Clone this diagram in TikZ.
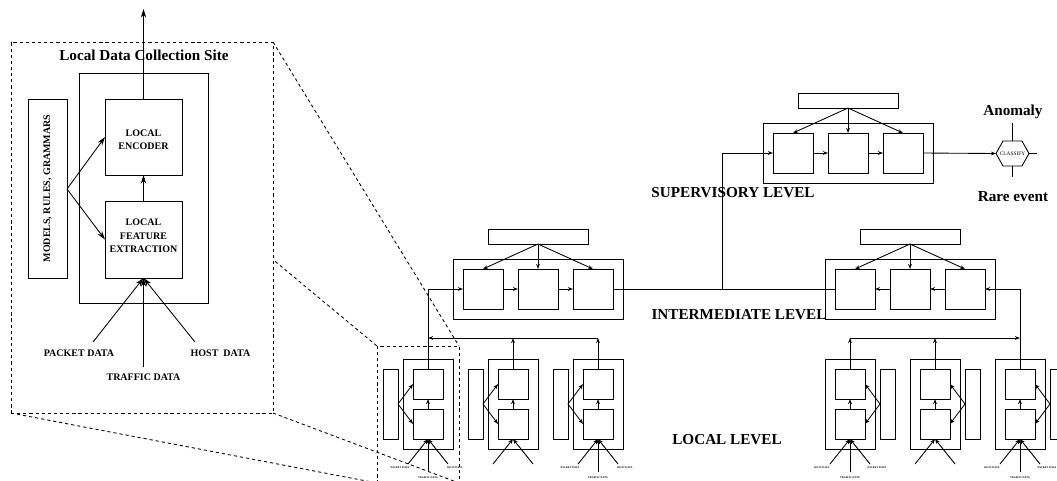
\documentclass[tikz,border=0pt]{standalone}
\usepackage{fontspec}
\setmainfont{Liberation Serif}
\usetikzlibrary{arrows.meta,fit}
\tikzset{
  bx/.style={draw, line width=0.6pt, inner sep=0pt, outer sep=0pt},
  ux/.style={draw, line width=0.65pt, inner sep=0pt, outer sep=0pt},
  ln/.style={line width=0.65pt},
  sarr/.style={ln, -{Stealth[length=3.8pt,width=2.8pt]}},
  barr/.style={line width=0.65pt, -{Stealth[length=6.5pt,width=4pt]}},
  dsh/.style={line width=0.65pt, dash pattern=on 2.4pt off 2.2pt},
  big/.style={font=\fontsize{11.4}{13}\selectfont\bfseries, inner sep=0pt},
  mid/.style={font=\fontsize{7.5}{10}\selectfont\bfseries, inner sep=0pt, align=center},
  tiny/.style={font=\fontsize{2}{2.4}\selectfont\bfseries, inner sep=0pt},
  cls/.style={font=\fontsize{4}{5}\selectfont, inner sep=0pt},
}
% local unit: #1 name, #2 centre x, #3 side sign of models box, #4 anchor facing models
\newcommand{\lunit}[4]{%
  \node[ux, fit={({#2-25},359)({#2+25},449)}] (#1o) {};
  \node[ux, fit={({#2-15},369)({#2+15},399)}] (#1e) {};
  \node[ux, fit={({#2-15},409)({#2+15},439)}] (#1f) {};
  \node[ux, fit={({#2+#3*30},369)({#2+#3*45},439)}] (#1m) {};
  \coordinate (#1v) at ({#2+#3*30},404);
  \draw[sarr] (#1v) -- (#1e.#4);
  \draw[sarr] (#1v) -- (#1f.#4);
  \draw[sarr] (#1f.north) -- (#1e.south);
  \coordinate (#1p) at ({#2-20},464);
  \coordinate (#1q) at ({#2+20},464);
  \draw[sarr] (#1p) -- (#1f.south);
  \draw[sarr] (#1q) -- (#1f.south);
}
% data labels of a local unit: #1 name, #2 centre x, #3 left label, #4 right label
\newcommand{\ldata}[4]{%
  \coordinate (#1r) at (#2,472);
  \draw[sarr] (#1r) -- (#1f.south);
  \node[tiny] (#1la) at ({#2-28},468) {#3};
  \node[tiny] (#1lb) at ({#2+27},468) {#4};
  \node[tiny] (#1lc) at (#2,478) {TRAFFIC DATA};
}
% three-block stage: #1 name, #2 left x, #3 top y
\newcommand{\tribox}[3]{%
  \node[ux, fit={(#2,#3)({#2+170},{#3+60})}] (#1o) {};
  \node[ux, fit={({#2+35},{#3-30})({#2+135},{#3-15})}] (#1k) {};
  \node[ux, fit={({#2+10},{#3+10})({#2+50},{#3+50})}] (#1a) {};
  \node[ux, fit={({#2+65},{#3+10})({#2+105},{#3+50})}] (#1b) {};
  \node[ux, fit={({#2+120},{#3+10})({#2+160},{#3+50})}] (#1c) {};
  \draw[sarr] (#1k.south) -- (#1a.north);
  \draw[sarr] (#1k.south) -- (#1b.north);
  \draw[sarr] (#1k.south) -- (#1c.north);
}
\begin{document}
\begin{tikzpicture}[x=0.75pt,y=-0.75pt]
\useasboundingbox (0,0) rectangle (1057,480);
\clip (0,0) rectangle (1057,480);

% projection lines
\coordinate (iTL) at (11,42);
\coordinate (iTR) at (273,42);
\coordinate (iBL) at (11,413);
\coordinate (iBR) at (273,413);
\coordinate (zTL) at (377,346);
\coordinate (zTR) at (459,346);
\coordinate (zBL) at (377,483);
\coordinate (zBR) at (459,483);
\draw[dsh] (iTL) -- (zTL);
\draw[dsh] (iTR) -- (zTR);
\draw[dsh] (iBL) -- (zBL);
\draw[dsh] (iBR) -- (zBR);

% inset
\node[dsh, draw, fill=white, inner sep=0pt, fit=(iTL)(iBR)] (inset) {};
\node[big] (title) at (144,55) {Local Data Collection Site};
\node[bx, fit={(79,73)(208,303)}] (site) {};
\node[bx, fit={(28,99)(67,278)}] (mods) {};
\node[mid, rotate=90] (modsT) at (mods.center) {MODELS, RULES, GRAMMARS};
\node[bx, fit={(105,99)(182,175)}] (enc) {};
\node[mid] (encT) at (143.5,140) {LOCAL\\ENCODER};
\node[bx, fit={(105,201)(182,278)}] (fea) {};
\node[mid] (feaT) at (143.5,236) {LOCAL\\FEATURE\\EXTRACTION};
\coordinate (fan) at (67,189);
\draw[barr] (fan) -- (enc.west);
\draw[barr] (fan) -- (fea.west);
\draw[barr] (fea.north) -- (enc.south);
\coordinate (out) at (143.5,9);
\draw[barr] (enc.north) -- (out);
\coordinate (pk) at (93,342);
\coordinate (hs) at (195,342);
\coordinate (tr) at (143.5,367);
\draw[barr] (pk) -- (fea.south);
\draw[barr] (hs) -- (fea.south);
\draw[barr] (tr) -- (fea.south);
\node[mid] (pkT) at (79,353) {PACKET DATA};
\node[mid] (hsT) at (220.5,353) {HOST\ \ DATA};
\node[mid] (trT) at (143.5,377) {TRAFFIC DATA};

% local level
\lunit{ua}{428}{-1}{west}
\lunit{ub}{513}{-1}{west}
\lunit{uc}{598}{-1}{west}
\lunit{ud}{850}{1}{east}
\lunit{ue}{935}{1}{east}
\lunit{uf}{1020}{1}{east}
\ldata{ua}{428}{PACKET DATA}{HOST DATA}
\ldata{uc}{598}{PACKET DATA}{HOST DATA}
\ldata{ud}{850}{HOST DATA}{PACKET DATA}
\ldata{uf}{1020}{HOST DATA}{PACKET DATA}
\node[dsh, draw, inner sep=0pt, fit=(zTL)(zBR)] (zbox) {};

% intermediate and supervisory stages
\tribox{LI}{453}{259}
\tribox{RI}{825}{259}
\tribox{SB}{763}{123}

% left bus
\coordinate (lbA) at (428,338);
\coordinate (lbC) at (598,338);
\draw[sarr] (lbC) -- (lbA);
\draw[sarr] (ube.north) -- (ube.north |- lbA);
\draw[sarr] (uce.north) -- (lbC);
\draw[sarr] (uae.north) |- (LIa.west);
% right bus
\coordinate (rbD) at (850,338);
\coordinate (rbF) at (1020,338);
\draw[sarr] (rbD) -- (rbF);
\draw[sarr] (ude.north) -- (rbD);
\draw[sarr] (uee.north) -- (uee.north |- rbD);
\draw[sarr] (ufe.north) |- (RIc.east);

% stage internals
\draw[sarr] (LIa.east) -- (LIb.west);
\draw[sarr] (LIb.east) -- (LIc.west);
\draw[sarr] (RIc.west) -- (RIb.east);
\draw[sarr] (RIb.west) -- (RIa.east);
\draw[sarr] (SBa.east) -- (SBb.west);
\draw[sarr] (SBb.east) -- (SBc.west);
\draw[ln] (LIc.east) -- (RIa.west);
\coordinate (jn) at (722,289);
\draw[sarr] (jn) |- (SBa.west);

% classifier
\coordinate (h1) at (996,153.5);
\coordinate (h2) at (1003,141);
\coordinate (h3) at (1022,141);
\coordinate (h4) at (1029,153.5);
\coordinate (h5) at (1022,166);
\coordinate (h6) at (1003,166);
\draw[ln] (h1) -- (h2) -- (h3) -- (h4) -- (h5) -- (h6) -- cycle;
\node[cls] (clsT) at (1012.5,153.5) {CLASSIFY};
\draw[sarr] (SBc.east) -- (h1);
\coordinate (st) at (1012.5,123);
\coordinate (sb) at (1012.5,177);
\coordinate (sr) at (1037,153.5);
\coordinate (ht) at (1012.5,141);
\coordinate (hb) at (1012.5,166);
\draw[ln] (ht) -- (st);
\draw[ln] (hb) -- (sb);
\draw[ln] (h4) -- (sr);
\node[big] (anom) at (1013,112) {Anomaly};
\node[big] (rare) at (1013,197) {Rare event};

% level labels
\node[big] (supL) at (733,193) {SUPERVISORY LEVEL};
\node[big] (intL) at (739,315) {INTERMEDIATE LEVEL};
\node[big] (locL) at (727,440) {LOCAL LEVEL};
\end{tikzpicture}
\end{document}
